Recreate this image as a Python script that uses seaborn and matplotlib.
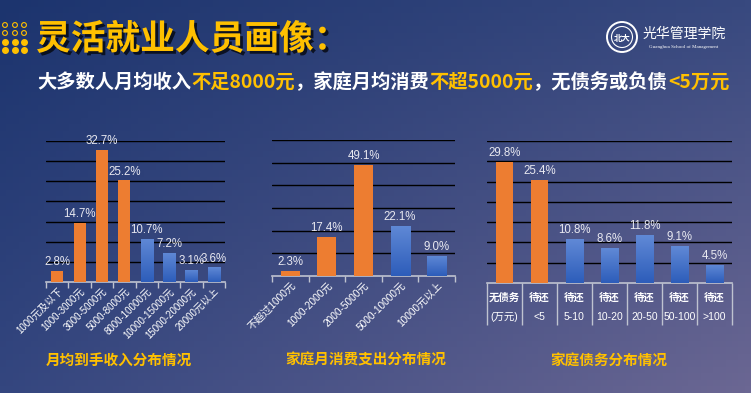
import numpy as np
import pandas as pd
import matplotlib
matplotlib.use("Agg")
import matplotlib.pyplot as plt
import matplotlib.patheffects as pe
from matplotlib.patches import Circle
from matplotlib.colors import LinearSegmentedColormap, to_rgb
import seaborn as sns

W, H = 751, 393

# ---- data ----
income_cats = ["1000元及以下", "1000-3000元", "3000-5000元", "5000-8000元",
               "8000-10000元", "10000-15000元", "15000-20000元", "20000元以上"]
income_vals = [2.8, 14.7, 32.7, 25.2, 10.7, 7.2, 3.1, 3.6]
income_hot = 4

spend_cats = ["不超过1000元", "1000-2000元", "2000-5000元", "5000-10000元", "10000元以上"]
spend_vals = [2.3, 17.4, 49.1, 22.1, 9.0]
spend_hot = 3

debt_top = ["无债务", "待还", "待还", "待还", "待还", "待还", "待还"]
debt_bottom = ["(万元)", "<5", "5-10", "10-20", "20-50", "50-100", ">100"]
debt_vals = [29.8, 25.4, 10.8, 8.6, 11.8, 9.1, 4.5]
debt_hot = 2

title = "灵活就业人员画像："
subtitle = [("大多数人月均收入", "white"), ("不足8000元", "gold"),
            ("，家庭月均消费", "white"), ("不超5000元", "gold"),
            ("，无债务或负债", "white"), ("<5万元", "gold")]
chart_titles = ["月均到手收入分布情况", "家庭月消费支出分布情况", "家庭债务分布情况"]

ORANGE = "#ED7D31"
BLUE = "#4373C9"
BLUE_TOP = "#6089D6"
BLUE_BOT = "#2D5DBA"
GOLD = "#FFC000"
LABEL = "#E8E8F0"
LINE = "#BFC3D0"

sns.set_theme(style="white")
plt.rcParams["font.family"] = ["Liberation Sans", "Noto Sans CJK SC", "DejaVu Sans"]
CJK = ["Noto Sans CJK SC", "DejaVu Sans"]

fig = plt.figure(figsize=(W / 100, H / 100), dpi=100)

# ---- background ----
bg = fig.add_axes([0, 0, 1, 1], zorder=-1)
tl, tr = np.array(to_rgb("#1C346E")), np.array(to_rgb("#38497F"))
bl, br = np.array(to_rgb("#34467F")), np.array(to_rgb("#6B6793"))
u = np.linspace(0, 1, 120)[None, :, None]
v = np.linspace(0, 1, 60)[:, None, None]
img = (1 - v) * ((1 - u) * tl + u * tr) + v * ((1 - u) * bl + u * br)
bg.imshow(np.clip(img, 0, 1), extent=[0, W, H, 0], aspect="auto")
bg.set_xlim(0, W)
bg.set_ylim(H, 0)
bg.axis("off")

# decorative dots
for r, yy in enumerate([25, 33, 42, 50]):
    for xx in [5, 15, 24]:
        if r < 2:
            bg.scatter(xx, yy, s=12, facecolors="none", edgecolors=GOLD, linewidths=0.8)
        else:
            bg.scatter(xx, yy, s=16, color=GOLD)

# logo
bg.add_patch(Circle((622, 37), 15, fill=False, ec="white", lw=1.4))
bg.add_patch(Circle((622, 37), 10.5, fill=False, ec="white", lw=0.8))
bg.text(622, 38, "北大", color="white", fontsize=6, ha="center", va="center",
        family=CJK, fontweight="bold")
bg.text(684, 34, "光华管理学院", color="white", fontsize=10, ha="center", va="center",
        family=CJK)
bg.text(684, 47, "Guanghua School of Management", color="white", fontsize=3.6,
        ha="center", va="center", family=["Liberation Serif"])

# title
fig.text(36 / W, 1 - 39 / H, title, color=GOLD, fontsize=25, fontweight="bold",
         family=CJK, va="center", ha="left",
         path_effects=[pe.withSimplePatchShadow(offset=(2, -2), shadow_rgbFace="black", alpha=0.7)])

# subtitle
renderer = fig.canvas.get_renderer()
x = 37
for s, col in subtitle:
    t = fig.text(x / W, 1 - 82 / H, s, color=GOLD if col == "gold" else "white",
                 fontsize=13.9, fontweight="bold", va="center", ha="left",
                 family=["Noto Sans CJK SC", "DejaVu Sans"])
    x += t.get_window_extent(renderer).width

gcmap = LinearSegmentedColormap.from_list("blues", [BLUE_BOT, BLUE_TOP])
grad = np.linspace(0, 1, 64).reshape(-1, 1)


def draw_bars(rect, cats, vals, n_hot, ymax, step, width):
    ax = fig.add_axes(rect)
    ax.patch.set_alpha(0)
    df = pd.DataFrame({"cat": cats, "val": vals})
    palette = [ORANGE] * n_hot + [BLUE] * (len(cats) - n_hot)
    sns.barplot(data=df, x="cat", y="val", hue="cat", palette=palette, legend=False,
                width=width, saturation=1, linewidth=0, edgecolor="none", ax=ax, zorder=3)
    for i, patch in enumerate(ax.patches):
        if i >= n_hot:
            x0, w, h = patch.get_x(), patch.get_width(), patch.get_height()
            im = ax.imshow(grad, extent=[x0, x0 + w, 0, h], origin="lower", cmap=gcmap,
                           aspect="auto", zorder=3.5)
            im.set_clip_path(patch)
    for c in ax.containers:
        ax.bar_label(c, fmt="%.1f%%", padding=2, color=LABEL, fontsize=8.3)
    n = len(cats)
    ax.set_xlim(-0.5, n - 0.5)
    ax.set_ylim(0, ymax)
    ax.set_yticks(np.arange(step, ymax + step / 2, step))
    ax.yaxis.grid(True, color="black", lw=1)
    ax.tick_params(axis="y", length=0, labelleft=False)
    for sp in ["left", "right", "top"]:
        ax.spines[sp].set_visible(False)
    ax.spines["bottom"].set_color(LINE)
    ax.spines["bottom"].set_linewidth(1.2)
    ax.set_xlabel("")
    ax.set_ylabel("")
    ax.set_xticks(np.arange(-0.5, n, 1.0), minor=True)
    ax.tick_params(axis="x", which="minor", length=4, color=LINE, width=1, bottom=True)
    return ax


# chart 1
ax1 = draw_bars([46 / W, 1 - 282 / H, 179 / W, 141 / H], income_cats, income_vals,
                income_hot, 35, 5, 0.54)
ax1.set_xticks(range(len(income_cats)))
ax1.set_xticklabels(income_cats, rotation=45, ha="right", rotation_mode="anchor",
                    color="white", fontsize=7)
ax1.tick_params(axis="x", which="major", length=0, pad=3)

# chart 2
ax2 = draw_bars([272 / W, 1 - 276 / H, 183 / W, 136 / H], spend_cats, spend_vals,
                spend_hot, 60, 10, 0.52)
ax2.set_xticks(range(len(spend_cats)))
ax2.set_xticklabels(spend_cats, rotation=45, ha="right", rotation_mode="anchor",
                    color="white", fontsize=7.3)
ax2.tick_params(axis="x", which="major", length=0, pad=3)

# chart 3
ax3 = draw_bars([487 / W, 1 - 283 / H, 245 / W, 142 / H], debt_bottom, debt_vals,
                debt_hot, 35, 5, 0.51)
ax3.set_xticks(range(len(debt_bottom)))
ax3.set_xticklabels([])
ax3.tick_params(axis="x", which="both", length=0)
tr3 = ax3.get_xaxis_transform()
ax3.vlines(np.arange(-0.5, len(debt_bottom), 1.0), -0.296, 0, transform=tr3,
           color=LINE, lw=1, clip_on=False)
for i, (a, b) in enumerate(zip(debt_top, debt_bottom)):
    ax3.text(i, -0.10, a, transform=tr3, ha="center", va="center", color="white",
             fontsize=7.5, fontweight="bold", family=CJK)
    ax3.text(i, -0.24, b, transform=tr3, ha="center", va="center", color="white",
             fontsize=7.5, family=["Liberation Sans", "Noto Sans CJK SC"])

# chart captions
for cx, s in zip([119, 366, 609], chart_titles):
    fig.text(cx / W, 1 - 360 / H, s, color=GOLD, fontsize=10.5, fontweight="bold",
             family=CJK, ha="center", va="center")

fig.savefig("out.png", dpi=100)
